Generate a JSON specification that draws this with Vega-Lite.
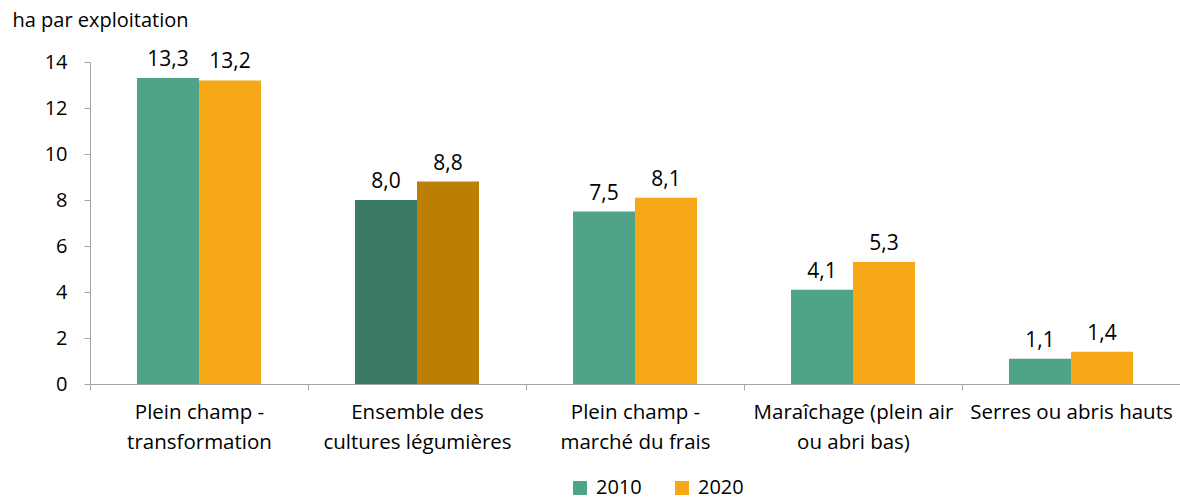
{
  "$schema": "https://vega.github.io/schema/vega-lite/v6.json",
  "width": 1090,
  "height": 322,
  "autosize": {"type": "none"},
  "padding": {"left": 90, "top": 62, "right": 0, "bottom": 116},
  "config": {
    "view": {"stroke": null},
    "font": "Open Sans",
    "locale": {"number": {"decimal": ",", "thousands": "\u00a0", "grouping": [3], "currency": ["", "\u00a0€"]}}
  },
  "data": {
    "values": [
      {"categorie": "Plein champ -|transformation", "annee": "2010", "couleur": "2010", "valeur": 13.3},
      {"categorie": "Plein champ -|transformation", "annee": "2020", "couleur": "2020", "valeur": 13.2},
      {"categorie": "Ensemble des|cultures légumières", "annee": "2010", "couleur": "2010 ensemble", "valeur": 8.0},
      {"categorie": "Ensemble des|cultures légumières", "annee": "2020", "couleur": "2020 ensemble", "valeur": 8.8},
      {"categorie": "Plein champ -|marché du frais", "annee": "2010", "couleur": "2010", "valeur": 7.5},
      {"categorie": "Plein champ -|marché du frais", "annee": "2020", "couleur": "2020", "valeur": 8.1},
      {"categorie": "Maraîchage (plein air|ou abri bas)", "annee": "2010", "couleur": "2010", "valeur": 4.1},
      {"categorie": "Maraîchage (plein air|ou abri bas)", "annee": "2020", "couleur": "2020", "valeur": 5.3},
      {"categorie": "Serres ou abris hauts", "annee": "2010", "couleur": "2010", "valeur": 1.1},
      {"categorie": "Serres ou abris hauts", "annee": "2020", "couleur": "2020", "valeur": 1.4}
    ]
  },
  "encoding": {
    "x": {
      "field": "categorie",
      "type": "nominal",
      "sort": null,
      "scale": {"paddingInner": 0, "paddingOuter": 0},
      "axis": {
        "title": null,
        "labelAngle": 0,
        "tickBand": "extent",
        "domainColor": "#a6a6a6",
        "tickColor": "#a6a6a6",
        "tickSize": 6,
        "labelFontSize": 20.5,
        "labelColor": "#000000",
        "labelPadding": 12,
        "labelLineHeight": 30,
        "labelLimit": 0,
        "labelOverlap": false,
        "labelExpr": "split(datum.label, '|')"
      }
    },
    "xOffset": {"field": "annee", "type": "nominal", "scale": {"paddingInner": 0, "paddingOuter": 0.758}},
    "y": {
      "field": "valeur",
      "type": "quantitative",
      "scale": {"domain": [0, 14], "nice": false},
      "axis": {
        "values": [0, 2, 4, 6, 8, 10, 12, 14],
        "grid": false,
        "domainColor": "#a6a6a6",
        "tickColor": "#a6a6a6",
        "tickSize": 6,
        "labelPadding": 17,
        "labelFontSize": 20,
        "labelColor": "#000000",
        "title": "ha par exploitation",
        "titleAngle": 0,
        "titleX": -78,
        "titleY": -42,
        "titleAlign": "left",
        "titleBaseline": "middle",
        "titleFontWeight": "normal",
        "titleFontSize": 20,
        "titleColor": "#000000"
      }
    }
  },
  "layer": [
    {
      "mark": {"type": "bar"},
      "encoding": {
        "color": {
          "field": "couleur",
          "type": "nominal",
          "scale": {
            "domain": ["2010", "2020", "2010 ensemble", "2020 ensemble"],
            "range": ["#4fa388", "#f6a817", "#3b7a66", "#bd7e05"]
          },
          "legend": {
            "values": ["2010", "2020"],
            "title": null,
            "orient": "none",
            "direction": "horizontal",
            "legendX": 480,
            "legendY": 416,
            "symbolType": "square",
            "symbolSize": 196,
            "symbolStrokeWidth": 0,
            "symbolOpacity": 1,
            "labelFontSize": 20,
            "labelColor": "#000000",
            "columnPadding": 30,
            "labelOffset": 6
          }
        }
      }
    },
    {
      "mark": {"type": "text", "baseline": "bottom", "dy": -8, "fontSize": 21, "color": "#000000"},
      "encoding": {
        "text": {"field": "valeur", "type": "quantitative", "format": ".1f"}
      }
    }
  ]
}
